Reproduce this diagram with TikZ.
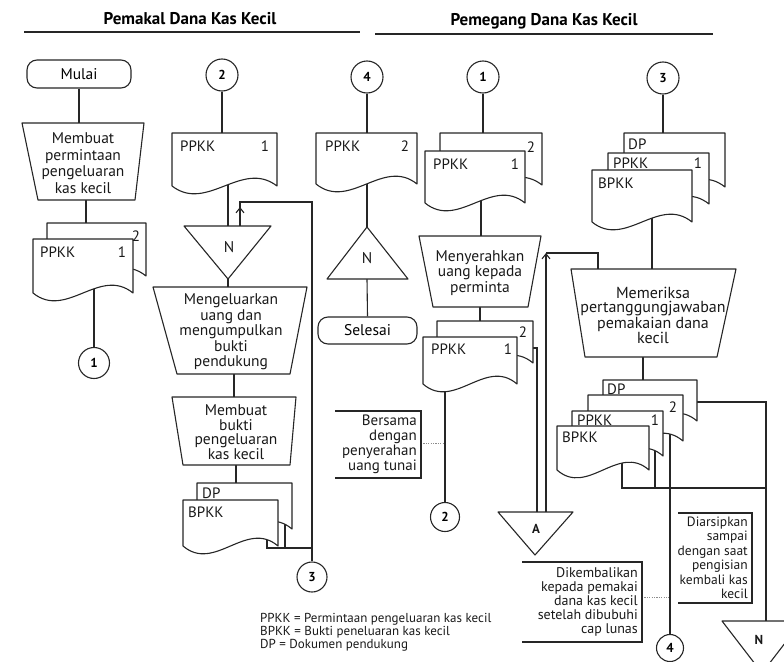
\documentclass[tikz,border=0pt]{standalone}
\usepackage{fontspec}
\setmainfont{PT Sans}
\usetikzlibrary{arrows.meta,calc}
\pgfdeclarelayer{bg}
\pgfsetlayers{bg,main}
% document symbol: x0, ytop, x1, ybase
\newcommand\docu[4]{%
  \path[shp] (#1,#2) -- (#3,#2) -- (#3,#4)
    .. controls ({#3-(#3-#1)/3},{#4-27}) and ({#1+(#3-#1)/3},{#4+27}) .. (#1,#4) -- cycle;}
\begin{document}
\begin{tikzpicture}[x=1pt,y=-1pt,
  ln/.style={line width=1.1pt,draw=black!85},
  shp/.style={ln,fill=white,line join=round},
  txt/.style={font=\fontsize{15.5}{16}\selectfont,align=center,inner sep=0pt,text=black!90},
  lbl/.style={font=\fontsize{15}{15}\selectfont,inner sep=0pt,text=black!90},
  lblw/.style={lbl,anchor=west},
  ann/.style={font=\fontsize{14.5}{14.5}\selectfont,align=right,inner sep=0pt,anchor=east,text=black!90},
  conn/.style={ln,circle,minimum size=31pt,inner sep=0pt,fill=white,font=\fontsize{13}{13}\selectfont\bfseries},
  term/.style={ln,rounded corners=10pt,fill=white,minimum width=104pt,minimum height=28pt,inner sep=0pt,font=\fontsize{15.5}{16}\selectfont},
  dots/.style={line width=0.6pt,draw=black!45,dash pattern=on 1.2pt off 1.2pt},
  head/.style={font=\fontsize{17}{17}\selectfont\bfseries,inner sep=0pt},
  leg/.style={font=\fontsize{13}{11.8}\selectfont,align=left,inner sep=0pt,text=black!90},
  tip/.style={-{Straight Barb[length=5pt,width=8pt]}}
]
\useasboundingbox (0,0) rectangle (784,661);
\clip (0,0) rectangle (784,661);

% ---------- headings ----------
\node[head] (h1) at (190,19) {Pemakal Dana Kas Kecil};
\node[head] (h2) at (544,21) {Pemegang Dana Kas Kecil};
\coordinate (u1a) at (24,32); \coordinate (u1b) at (360,32);
\coordinate (u2a) at (375,34); \coordinate (u2b) at (713,34);
\draw[ln] (u1a) -- (u1b);
\draw[ln] (u2a) -- (u2b);

% ---------- column 1 ----------
\node[term] (mulai) at (79,74) {Mulai};
\path[shp] (22,123) -- (144,123) -- (135,200) -- (38,200) -- cycle;
\node[txt,font=\fontsize{15.5}{16.5}\selectfont] (t1) at (83,163) {Membuat\\permintaan\\pengeluaran\\kas kecil};
\docu{47}{223}{146}{276}
\docu{33}{239}{133}{293}
\node[lblw] (l1a) at (40,252) {PPKK};
\node[lbl] (l1b) at (122,252) {1};
\node[lbl] (l1c) at (136,236) {2};
\node[conn] (c1) at (94,363) {1};
\coordinate (t1top) at (79,123);
\coordinate (t1bot) at (86,200);
\coordinate (d1top) at (86,223);
\coordinate (d1in) at (94,280);

% ---------- column 2 ----------
\node[conn,minimum size=32pt] (c2) at (222,75) {2};
\docu{172}{133}{277}{186}
\node[lblw] (l2a) at (180,146) {PPKK};
\node[lbl] (l2b) at (265,146) {1};
\path[shp] (184,226) -- (271,226) -- (228,279) -- cycle;
\node[txt] (n2) at (229,247) {N};
\path[shp] (153,287) -- (307,287) -- (290,374) -- (177,374) -- cycle;
\node[txt,font=\fontsize{15.5}{15.5}\selectfont] (t2) at (231,332) {Mengeluarkan\\uang dan\\mengumpulkan\\bukti\\pendukung};
\path[shp] (172,397) -- (296,397) -- (290,465) -- (183,465) -- cycle;
\node[txt,font=\fontsize{15.5}{14.5}\selectfont] (t3) at (236,432) {Membuat\\bukti\\pengeluaran\\kas kecil};
\docu{197}{483}{292}{529}
\docu{183}{500}{278}{546}
\node[lblw] (l3a) at (202,493) {DP};
\node[lblw] (l3b) at (188,512) {BPKK};
\node[conn,minimum size=30pt] (c3) at (312,577) {3};
\coordinate (d2top) at (222,133);
\coordinate (d2in) at (228,170);
\coordinate (t2top) at (228,226);
\coordinate (t2apex) at (228,279);
\coordinate (tr2top) at (228,287);
\coordinate (tr2bot) at (234,374);
\coordinate (tr3top) at (234,397);
\coordinate (tr3bot) at (236,465);
\coordinate (d3top) at (236,483);
\coordinate (d3fin) at (267,530);
\coordinate (d3bin) at (285,510);
\coordinate (j3a) at (267,548);
\coordinate (j3b) at (285,548);
\coordinate (j3c) at (312,548);
\coordinate (lp1) at (240,226);
\coordinate (lpa) at (240,207);
\coordinate (lp2) at (240,202);
\coordinate (lp3) at (312,202);

% ---------- column 3 ----------
\node[conn,minimum size=32pt] (c4) at (367,77) {4};
\docu{316}{133}{417}{184}
\node[lblw] (l4a) at (325,146) {PPKK};
\node[lbl] (l4b) at (405,146) {2};
\path[shp] (367,227) -- (408,279) -- (327,279) -- cycle;
\node[txt] (n4) at (367,258) {N};
\node[term,minimum width=99pt,minimum height=27pt] (selesai) at (367.5,330.5) {Selesai};
\coordinate (a1tl) at (335,411); \coordinate (a1tr) at (421,411);
\coordinate (a1br) at (421,478); \coordinate (a1bl) at (335,478);
\draw[ln] (a1tl) -- (a1tr) -- (a1br) -- (a1bl);
\node[ann,font=\fontsize{15}{15}\selectfont] (a1) at (417,444.5) {Bersama\\dengan\\penyerahan\\uang tunai};
\coordinate (a1m) at (421,443);
\coordinate (a1n) at (445,443);
\coordinate (d4top) at (367,133);
\coordinate (d4in) at (367,170);
\coordinate (t4apex) at (367,227);
\coordinate (t4base) at (367,279);

% ---------- column 4 ----------
\node[conn,minimum size=32pt] (c5) at (483,77) {1};
\docu{440}{133}{542}{185}
\docu{425}{151}{525}{203}
\node[lbl] (l5c) at (531,147) {2};
\node[lblw] (l5a) at (433,164) {PPKK};
\node[lbl] (l5b) at (515,164) {1};
\path[shp] (419,236) -- (541,236) -- (528,307) -- (433,307) -- cycle;
\node[txt,font=\fontsize{15.5}{15.5}\selectfont] (t5) at (480,273) {Menyerahkan\\uang kepada\\perminta};
\docu{437}{321}{533}{363}
\docu{423}{337}{517}{384}
\node[lbl] (l6c) at (523,332) {2};
\node[lblw] (l6a) at (431,349) {PPKK};
\node[lbl] (l6b) at (508,349) {1};
\node[conn,minimum size=29pt] (c6) at (445,517) {2};
\path[shp] (498,512) -- (573,512) -- (535,555) -- cycle;
\node[txt,font=\fontsize{13}{13}\selectfont\bfseries] (nA) at (536,529) {A};
\coordinate (a2tl) at (522,562); \coordinate (a2tr) at (642,562);
\coordinate (a2br) at (642,642); \coordinate (a2bl) at (522,642);
\draw[ln] (a2tl) -- (a2tr) -- (a2br) -- (a2bl);
\node[ann,font=\fontsize{14}{14}\selectfont] (a2) at (638,602) {Dikembalikan\\kepada pemakai\\dana kas kecil\\setelah dibubuhi\\cap lunas};
\coordinate (a2m) at (642,597);
\coordinate (a2n) at (670,597);
\coordinate (d5top) at (483,133);
\coordinate (d5in) at (481,190);
\coordinate (tr5top) at (481,236);
\coordinate (tr5bot) at (480,307);
\coordinate (d6top) at (480,321);
\coordinate (d6in) at (445,370);
\coordinate (d6bin) at (525,348);
\coordinate (j6) at (537,348);
\coordinate (aTop1) at (537,512);
\coordinate (aTop2) at (546,512);
\coordinate (aUp) at (546,253);
\coordinate (aR) at (598,253);
\coordinate (tr7top2) at (598,269);

% ---------- column 5 ----------
\node[conn,minimum size=32pt] (c7) at (663,78) {3};
\docu{624}{133}{725}{187}
\docu{608}{153}{709}{204}
\docu{592}{170}{692}{222}
\node[lblw] (l7a) at (628,144) {DP};
\node[lblw] (l7b) at (613,163) {PPKK};
\node[lbl] (l7c) at (698,163) {1};
\node[lblw] (l7d) at (598,183) {BPKK};
\path[shp] (571,269) -- (736,269) -- (717,357) -- (585,357) -- cycle;
\node[txt,font=\fontsize{16}{14.7}\selectfont] (t7) at (653,315) {Memeriksa\\pertanggungjawaban\\pemakaian dana\\kecil};
\docu{603}{380}{697}{421}
\docu{588}{395}{683}{441}
\docu{572}{411}{663}{456}
\docu{557}{426}{649}{470}
\node[lblw] (l8a) at (607,389) {DP};
\node[lbl] (l8b) at (673,407) {2};
\node[lblw] (l8c) at (577,420) {PPKK};
\node[lbl] (l8d) at (655,420) {1};
\node[lblw] (l8e) at (562,437) {BPKK};
\node[conn,minimum size=27pt] (c8) at (670,648) {4};
\path[shp] (722,621) -- (802,621) -- (762,673) -- cycle;
\node[txt,font=\fontsize{13}{13}\selectfont\bfseries] (nN) at (759,640) {N};
\coordinate (a3tl) at (678,513); \coordinate (a3tr) at (752,513);
\coordinate (a3br) at (752,603); \coordinate (a3bl) at (678,603);
\draw[ln] (a3tl) -- (a3tr) -- (a3br) -- (a3bl);
\node[ann,font=\fontsize{13.5}{14.5}\selectfont] (a3) at (748,558) {Diarsipkan\\sampai\\dengan saat\\pengisian\\kembali kas\\kecil};
\coordinate (d7top) at (663,133);
\coordinate (d7in) at (652,200);
\coordinate (tr7top) at (652,269);
\coordinate (tr7bot) at (643,357);
\coordinate (d8top) at (643,380);
\coordinate (d8ain) at (690,402);
\coordinate (k8a) at (766,402);
\coordinate (nTop) at (766,621);
\coordinate (d8din) at (622,455);
\coordinate (d8cin) at (655,440);
\coordinate (j8a) at (622,488);
\coordinate (j8b) at (655,488);
\coordinate (j8c) at (766,488);
\coordinate (d8bin) at (670,420);

% ---------- legend ----------
\node[leg,anchor=west] (leg) at (260,632) {PPKK = Permintaan pengeluaran kas kecil\\BPKK = Bukti peneluaran kas kecil\\DP = Dokumen pendukung};

% ---------- connectors (behind the shapes) ----------
\begin{pgfonlayer}{bg}
\draw[ln] (mulai.south) -- (t1top);
\draw[ln] (t1bot) -- (d1top);
\draw[ln] (d1in) -- (c1.north);
\draw[ln] (c2.south) -- (d2top);
\draw[ln] (d2in) -- (t2top);
\draw[ln] (t2apex) -- (tr2top);
\draw[ln] (tr2bot) -- (tr3top);
\draw[ln] (tr3bot) -- (d3top);
\draw[ln] (d3fin) -- (j3a) -- (j3c);
\draw[ln] (d3bin) -- (j3b);
\draw[ln] (lp1) -- (lp2) -- (lp3) -- (c3.north);
\draw[ln,tip] (lp1) -- (lpa);
\draw[ln] (c4.south) -- (d4top);
\draw[ln] (d4in) -- (t4apex);
\draw[ln] (t4base) -- (selesai.north);
\draw[dots] (a1m) -- (a1n);
\draw[ln] (c5.south) -- (d5top);
\draw[ln] (d5in) -- (tr5top);
\draw[ln] (tr5bot) -- (d6top);
\draw[ln] (d6in) -- (c6.north);
\draw[ln] (d6bin) -- (j6) -- (aTop1);
\draw[ln,tip] (aTop2) -- (aUp);
\draw[ln] (aUp) -- (aR) -- (tr7top2);
\draw[dots] (a2m) -- (a2n);
\draw[ln] (c7.south) -- (d7top);
\draw[ln] (d7in) -- (tr7top);
\draw[ln] (tr7bot) -- (d8top);
\draw[ln] (d8ain) -- (k8a) -- (nTop);
\draw[ln] (d8din) -- (j8a) -- (j8c);
\draw[ln] (d8cin) -- (j8b);
\draw[ln] (d8bin) -- (c8.north);
\end{pgfonlayer}
\end{tikzpicture}
\end{document}
